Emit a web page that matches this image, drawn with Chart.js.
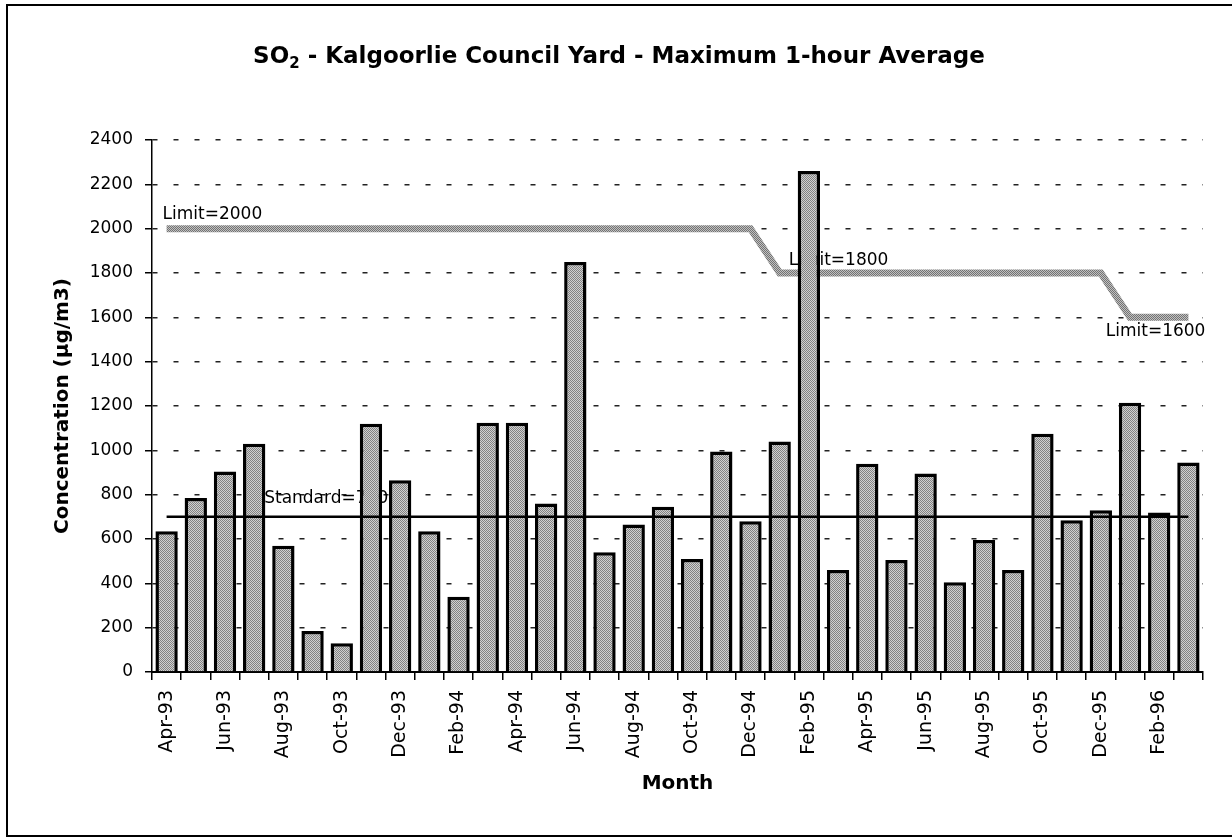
<!DOCTYPE html>
<html>
<head>
<meta charset="utf-8">
<title>SO2 - Kalgoorlie Council Yard</title>
<script src="https://cdn.jsdelivr.net/npm/chart.js@4.4.1/dist/chart.umd.min.js"></script>
<style>
  html, body { margin: 0; padding: 0; background: #fff; }
  canvas { display: block; }
</style>
</head>
<body>
<canvas id="so2Chart" width="1232" height="838"></canvas>
<script>
const months = [
  'Apr-93', 'May-93', 'Jun-93', 'Jul-93', 'Aug-93', 'Sep-93', 'Oct-93', 'Nov-93', 'Dec-93',
  'Jan-94', 'Feb-94', 'Mar-94', 'Apr-94', 'May-94', 'Jun-94', 'Jul-94', 'Aug-94', 'Sep-94',
  'Oct-94', 'Nov-94', 'Dec-94', 'Jan-95', 'Feb-95', 'Mar-95', 'Apr-95', 'May-95', 'Jun-95',
  'Jul-95', 'Aug-95', 'Sep-95', 'Oct-95', 'Nov-95', 'Dec-95', 'Jan-96', 'Feb-96', 'Mar-96'
];

// maximum 1-hour average SO2, ug/m3
const maxHourly = [
  635, 785, 905, 1030, 570, 185, 130, 1120, 865,
  635, 340, 1125, 1125, 760, 1850, 540, 665, 745,
  510, 995, 680, 1040, 2260, 460, 940, 505, 895,
  405, 595, 460, 1075, 685, 730, 1215, 720, 945
];

const limits = [
  2000, 2000, 2000, 2000, 2000, 2000, 2000, 2000, 2000,
  2000, 2000, 2000, 2000, 2000, 2000, 2000, 2000, 2000,
  2000, 2000, 2000, 1800, 1800, 1800, 1800, 1800, 1800,
  1800, 1800, 1800, 1800, 1800, 1800, 1600, 1600, 1600
];

const standard = months.map(() => 700);

const yMin = 0;
const yMax = 2400;
const yStep = 200;

const FONT = '"DejaVu Sans", sans-serif';
Chart.defaults.font.family = FONT;
Chart.defaults.color = '#000';

const canvas = document.getElementById('so2Chart');
const ctx = canvas.getContext('2d');

// small 2x2 stipple so the grey fills look like the printed screen
function stipple(dark, light) {
  const c = document.createElement('canvas');
  c.width = 2;
  c.height = 2;
  const g = c.getContext('2d');
  g.fillStyle = light;
  g.fillRect(0, 0, 2, 2);
  g.fillStyle = dark;
  g.fillRect(0, 0, 1, 1);
  g.fillRect(1, 1, 1, 1);
  return ctx.createPattern(c, 'repeat');
}

const barFill = stipple('#828282', '#d0d0d0');
const limitFill = stipple('#737373', '#c0c0c0');

// page frame + title with subscript
const frameAndTitle = {
  id: 'frameAndTitle',
  beforeDraw(chart) {
    const c = chart.ctx;
    c.save();
    c.fillStyle = '#fff';
    c.fillRect(0, 0, chart.width, chart.height);
    c.strokeStyle = '#000';
    c.lineWidth = 2;
    c.beginPath();
    c.moveTo(chart.width, 5);
    c.lineTo(7, 5);
    c.lineTo(7, 836);
    c.lineTo(chart.width, 836);
    c.stroke();

    const main = 'bold 23px ' + FONT;
    const sub = 'bold 15px ' + FONT;
    const parts = [
      { text: 'SO', font: main, dy: 0 },
      { text: '2', font: sub, dy: 5 },
      { text: ' - Kalgoorlie Council Yard - Maximum 1-hour Average', font: main, dy: 0 }
    ];
    let total = 0;
    parts.forEach(p => { c.font = p.font; p.w = c.measureText(p.text).width; total += p.w; });
    let px = 619 - total / 2;
    c.fillStyle = '#000';
    c.textBaseline = 'alphabetic';
    c.textAlign = 'left';
    parts.forEach(p => {
      c.font = p.font;
      c.fillText(p.text, px, 63 + p.dy);
      px += p.w;
    });
    c.restore();
  }
};

// labels for the limit and standard lines, drawn under the bars
const lineLabels = {
  id: 'lineLabels',
  beforeDatasetsDraw(chart) {
    const { ctx: c, scales: { x, y } } = chart;
    const jan95 = limits.indexOf(1800);
    const last = limits.length - 1;
    c.save();
    c.font = '17px ' + FONT;
    c.fillStyle = '#000';
    c.textBaseline = 'alphabetic';
    c.textAlign = 'left';
    c.fillText('Limit=' + limits[0], x.getPixelForValue(0) - 4, y.getPixelForValue(limits[0]) - 10);
    c.fillText('Limit=' + limits[jan95], x.getPixelForValue(jan95) + 9, y.getPixelForValue(limits[jan95]) - 8);
    c.fillText('Standard=' + standard[0], x.getPixelForValue(3) + 10, y.getPixelForValue(standard[0]) - 14);
    c.textAlign = 'right';
    c.fillText('Limit=' + limits[last], x.getPixelForValue(last) + 17, y.getPixelForValue(limits[last]) + 19);
    c.restore();
  }
};

const data = {
  labels: months,
  datasets: [
    {
      type: 'line',
      label: 'Standard',
      data: standard,
      borderColor: '#000',
      borderWidth: 2.5,
      pointRadius: 0,
      order: 1
    },
    {
      type: 'bar',
      label: 'Maximum 1-hour average',
      data: maxHourly,
      backgroundColor: barFill,
      borderColor: '#000',
      borderWidth: 3.5,
      barPercentage: 0.765,
      categoryPercentage: 1,
      order: 2
    },
    {
      type: 'line',
      label: 'Limit',
      data: limits,
      borderColor: limitFill,
      borderWidth: 7,
      pointRadius: 0,
      order: 3
    }
  ]
};

const config = {
  type: 'bar',
  data: data,
  options: {
    responsive: false,
    animation: false,
    devicePixelRatio: 1,
    layout: { padding: { top: 140, left: 47, right: 29, bottom: 38 } },
    plugins: {
      legend: { display: false },
      tooltip: { enabled: false },
      title: { display: false }
    },
    scales: {
      x: {
        offset: true,
        grid: { offset: true, drawOnChartArea: false, tickLength: 8, color: '#000', lineWidth: 1.5 },
        border: { color: '#000', width: 2 },
        ticks: {
          autoSkip: false,
          minRotation: 90,
          maxRotation: 90,
          padding: 10,
          font: { size: 19 },
          callback: function (value, index) {
            return index % 2 === 0 ? this.getLabelForValue(value) : '';
          }
        },
        title: { display: true, text: 'Month', font: { size: 20, weight: 'bold' } },
        afterFit(scale) { scale.height = 128; }
      },
      y: {
        min: yMin,
        max: yMax,
        ticks: { stepSize: yStep, padding: 12, font: { size: 17 }, callback: v => String(v) },
        grid: { color: '#222', lineWidth: 1.5, tickLength: 7, tickColor: '#000', tickBorderDash: [] },
        border: { color: '#000', width: 1.5, dash: [5, 16] },
        title: { display: true, text: 'Concentration (µg/m3)', font: { size: 20, weight: 'bold' } },
        afterFit(scale) { scale.width = 105; }
      }
    }
  },
  plugins: [frameAndTitle, lineLabels]
};

const so2Chart = new Chart(canvas, config);
</script>
</body>
</html>
